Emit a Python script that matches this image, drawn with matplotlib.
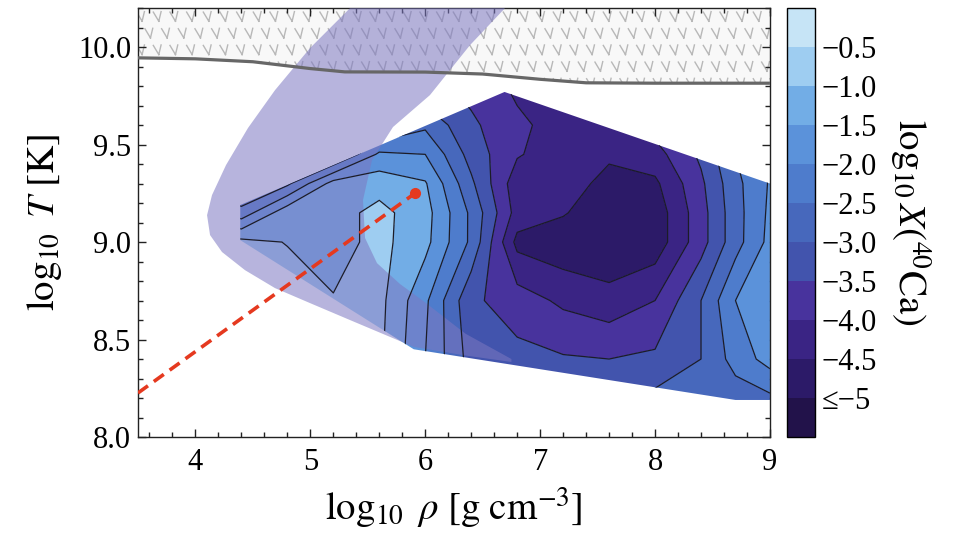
import numpy as np
import matplotlib
matplotlib.use("Agg")
import matplotlib.pyplot as plt
import matplotlib.hatch as mhatch
from matplotlib.path import Path
from matplotlib.patches import Polygon
from matplotlib.colors import ListedColormap
from matplotlib.ticker import MultipleLocator

# ---------------- data ----------------
rho_grid = [4.0, 4.4, 4.8, 5.2, 5.6, 6.0, 6.4, 6.8, 7.2, 7.6, 8.0, 8.4, 8.7, 9.0]
T_grid = [8.1, 8.4, 8.7, 9.0, 9.15, 9.3, 9.45, 9.6, 9.75, 9.9]
logX_T810 = [-0.7, -0.7, -0.7, -0.8, -0.9, -2.0, -2.7, -2.8, -2.8, -2.7, -2.6, -2.6, -3.0, -3.0]
logX_T840 = [-0.7, -0.7, -0.7, -0.85, -0.9, -2.0, -3.2, -3.35, -3.45, -3.5, -3.4, -3.0, -2.3, -1.8]
logX_T870 = [-0.7, -0.7, -0.75, -0.97, -0.85, -1.9, -3.4, -3.75, -4.1, -4.3, -4.0, -3.0, -2.0, -1.6]
logX_T900 = [-0.8, -0.85, -1.02, -1.2, -0.85, -1.35, -2.6, -4.65, -4.85, -4.95, -4.8, -3.7, -2.7, -1.85]
logX_T915 = [-1.8, -2.3, -1.15, -1.2, -0.85, -1.3, -2.6, -4.2, -4.45, -4.9, -4.8, -3.7, -2.7, -1.9]
logX_T930 = [-3.0, -3.2, -2.6, -1.3, -1.2, -1.45, -2.9, -4.3, -4.35, -4.6, -4.6, -3.6, -2.65, -1.95]
logX_T945 = [-3.5, -3.5, -3.5, -3.2, -1.9, -2.0, -3.2, -3.95, -4.3, -4.45, -4.2, -3.4, -2.5, -1.9]
logX_T960 = [-3.5, -3.5, -3.5, -3.5, -3.2, -2.6, -3.4, -3.9, -4.2, -4.3, -3.8, -3.2, -2.4, -1.9]
logX_T975 = [-3.5, -3.5, -3.5, -3.5, -3.5, -3.2, -3.6, -4.05, -4.15, -4.2, -3.8, -3.0, -2.3, -1.9]
logX_T990 = [-3.5, -3.5, -3.5, -3.5, -3.5, -3.5, -3.7, -4.2, -4.2, -4.2, -3.7, -3.0, -2.3, -1.9]

# outline of the region covered by the simulations
hull_rho = [4.39, 4.39, 5.9, 8.7, 9.0, 9.0, 6.69]
hull_T = [9.19, 9.01, 8.45, 8.19, 8.19, 9.30, 9.77]

# shaded band (outer edge then inner edge)
band_outer_rho = [5.345, 4.997, 4.692, 4.457, 4.266, 4.144, 4.101, 4.127, 4.231, 4.431,
                  4.692, 4.997, 5.345, 5.780, 5.902, 6.35, 6.75]
band_outer_T = [10.2, 9.995, 9.779, 9.585, 9.395, 9.241, 9.138, 9.036, 8.949, 8.856,
                8.764, 8.687, 8.600, 8.492, 8.462, 8.418, 8.385]
band_inner_rho = [6.75, 6.35, 6.0, 5.780, 5.580, 5.476, 5.458, 5.537,
                  5.719, 6.041, 6.389, 6.694]
band_inner_T = [8.40, 8.53, 8.69, 8.785, 8.892, 9.021, 9.215, 9.421,
                9.590, 9.754, 10.010, 10.2]

# upper boundary line (hatched region above it)
limit_rho = [3.5, 4.0, 4.5, 5.0, 5.3, 6.0, 6.5, 7.0, 7.4, 8.0, 9.0]
limit_T = [9.945, 9.94, 9.925, 9.89, 9.873, 9.872, 9.862, 9.835, 9.817, 9.815, 9.815]

# red dashed track
track_rho = [3.5, 5.91]
track_T = [8.226, 9.25]

levels = [-5.5, -5.0, -4.5, -4.0, -3.5, -3.0, -2.5, -2.0, -1.5, -1.0, -0.5, 0.0]
band_colors = ["#22124a", "#2c1a68", "#3a2484", "#48339d", "#4254ad", "#4768bc",
               "#4e7ccc", "#5b92da", "#72ade6", "#9ecdf1", "#c6e4f6"]
cbar_ticks = [-5.0, -4.5, -4.0, -3.5, -3.0, -2.5, -2.0, -1.5, -1.0, -0.5]
cbar_labels = ["≤−5", "−4.5", "−4.0", "−3.5", "−3.0", "−2.5", "−2.0", "−1.5", "−1.0", "−0.5"]


# ---------------- custom hatch glyph ----------------
class VeeHatch(mhatch.Shapes):
    size = 0.55
    filled = True

    def __init__(self, hatch, density):
        self.num_rows = hatch.count('*') * density
        self.shape_vertices = np.array([[-0.55, 0.5], [0.05, -0.5], [0.3, 0.55], [0.05, -0.5]])
        self.shape_codes = np.array([Path.MOVETO, Path.LINETO, Path.MOVETO, Path.LINETO],
                                    dtype=Path.code_type)
        super().__init__(hatch, density)


mhatch._hatch_types = [VeeHatch if t is mhatch.Stars else t for t in mhatch._hatch_types]

plt.rcParams['font.family'] = ['Liberation Serif', 'DejaVu Serif']
plt.rcParams['mathtext.fontset'] = 'stix'
plt.rcParams['hatch.color'] = '#b8b8b8'
plt.rcParams['hatch.linewidth'] = 1.0

fig = plt.figure(figsize=(9.61, 5.43), dpi=100)
ax = fig.add_axes([0.1436, 0.1952, 0.6576, 0.7898])
cax = fig.add_axes([0.819, 0.1952, 0.029, 0.7898])

Z = np.array([logX_T810, logX_T840, logX_T870, logX_T900, logX_T915,
              logX_T930, logX_T945, logX_T960, logX_T975, logX_T990])
cmap = ListedColormap(band_colors)

hull = Polygon(np.column_stack([hull_rho, hull_T]), closed=True,
               transform=ax.transData, facecolor='none', edgecolor='none')

# hatched excluded region
ax.fill_between(limit_rho, limit_T, 10.2, facecolor='#f8f8f8', edgecolor='#b8b8b8',
                linewidth=0, hatch='*', zorder=1)

cf = ax.contourf(rho_grid, T_grid, Z, levels=levels, cmap=cmap, zorder=2)
cf.set_clip_path(hull)

band_x = list(band_outer_rho) + list(band_inner_rho)
band_y = list(band_outer_T) + list(band_inner_T)
ax.fill(band_x, band_y, facecolor='#7c77c1', alpha=0.55, edgecolor='none', zorder=3)

cl = ax.contour(rho_grid, T_grid, Z, levels=levels[1:-1], colors='#1c1c28',
                linewidths=0.9, linestyles='solid', zorder=4)
cl.set_clip_path(hull)

ax.plot(limit_rho, limit_T, color='#676767', lw=2.3, zorder=5, solid_capstyle='butt')
ax.plot(track_rho, track_T, color='#e5391f', lw=2.6, linestyle=(0, (3.4, 2.0)), zorder=6)
ax.plot(track_rho[-1:], track_T[-1:], 'o', color='#e5391f', ms=7, zorder=7)

ax.set_xlim(3.5, 9.0)
ax.set_ylim(8.0, 10.2)
ax.xaxis.set_major_locator(MultipleLocator(1))
ax.xaxis.set_minor_locator(MultipleLocator(0.2))
ax.yaxis.set_major_locator(MultipleLocator(0.5))
ax.yaxis.set_minor_locator(MultipleLocator(0.1))
ax.set_yticks([8.0, 8.5, 9.0, 9.5, 10.0])
ax.set_yticklabels(['8.0', '8.5', '9.0', '9.5', '10.0'])
ax.tick_params(which='both', direction='in', top=True, right=True, width=1.0, color='#222222')
ax.tick_params(which='major', length=6)
ax.tick_params(which='minor', length=3.5)
ax.tick_params(axis='x', labelsize=22, pad=8)
ax.tick_params(axis='y', labelsize=22, pad=5)
for s in ax.spines.values():
    s.set_linewidth(1.0)
    s.set_color('#222222')

ax.set_xlabel(r'$\log_{10}\ \rho\ [\mathrm{g\ cm}^{-3}]$', fontsize=28, labelpad=6)
ax.set_ylabel(r'$\log_{10}\ T\ [\mathrm{K}]$', fontsize=28, labelpad=10)

cb = fig.colorbar(cf, cax=cax)
cb.set_ticks(cbar_ticks)
cb.set_ticklabels(cbar_labels)
cb.ax.tick_params(length=0, labelsize=22, pad=5)
cb.outline.set_linewidth(1.0)
cb.set_label(r'$\log_{10}X(^{40}\mathrm{Ca})$', fontsize=28, rotation=270, labelpad=40)

fig.savefig('out.png', dpi=100)
